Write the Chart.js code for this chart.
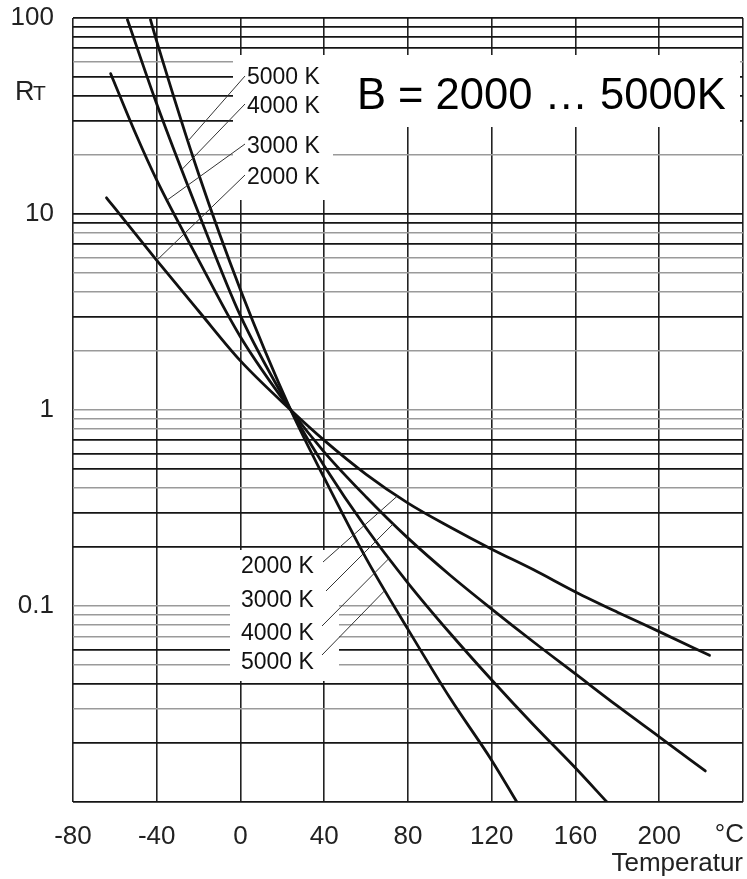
<!DOCTYPE html>
<html>
<head>
<meta charset="utf-8">
<script src="https://cdn.jsdelivr.net/npm/chart.js@4.4.1/dist/chart.umd.min.js"></script>
<style>
  html, body { margin: 0; padding: 0; background: #fff; }
  canvas { display: block; }
</style>
</head>
<body>
<canvas id="ntc" width="747" height="879"></canvas>
<script>
// NTC resistance ratio R_T / R_25 over temperature, B = 2000 ... 5000 K
var tempsB2000 = [-64, -60, -40, -20, 0, 24, 40, 60, 80, 100, 120, 140, 160, 180, 200, 224];
var ratioB2000 = [12.1, 10.7, 5.8, 3.2, 1.78, 1.0, 0.70, 0.47, 0.335, 0.253, 0.195, 0.153, 0.118, 0.093, 0.074, 0.056];

var tempsB3000 = [-62, -50, -40, -20, 0, 24, 40, 60, 80, 100, 120, 140, 160, 180, 200, 222];
var ratioB3000 = [52, 25.6, 14.9, 5.82, 2.36, 1.0, 0.61, 0.36, 0.222, 0.144, 0.0965, 0.0655, 0.045, 0.0309, 0.0215, 0.0144];

var tempsB4000 = [-54, -40, -20, 0, 24, 40, 60, 80, 100, 120, 140, 160, 175];
var ratioB4000 = [98, 36.4, 10.1, 3.02, 1.0, 0.518, 0.25, 0.131, 0.0728, 0.0419, 0.0247, 0.0149, 0.01];

var tempsB5000 = [-43, -40, -20, 0, 24, 40, 60, 80, 100, 120, 132];
var ratioB5000 = [98, 76, 16, 4.1, 1.0, 0.45, 0.175, 0.076, 0.034, 0.0163, 0.01];

var xTickValues = [-80, -40, 0, 40, 80, 120, 160, 200, 240];
var yGridValues = [
  0.01, 0.02, 0.03, 0.04, 0.05, 0.06, 0.07, 0.08, 0.09,
  0.1, 0.2, 0.3, 0.4, 0.5, 0.6, 0.7, 0.8, 0.9,
  1, 2, 3, 4, 5, 6, 7, 8, 9,
  10, 20, 30, 40, 50, 60, 70, 80, 90, 100
];
var yLabelValues = [0.1, 1, 10, 100];
// the heavier printed lines of the paper grid
var yHeavyLines = [100, 90, 80, 70, 50, 40, 30, 10, 9, 7, 3, 0.7, 0.6, 0.5, 0.3, 0.2, 0.06, 0.04, 0.02, 0.01];

// where each curve label points at its curve (temperature, °C)
var upperLabelTemps = { 5000: -25, 4000: -28, 3000: -35, 2000: -40 };
var lowerLabelTemps = { 2000: 75, 3000: 73, 4000: 71, 5000: 69 };

var series = {
  2000: [tempsB2000, ratioB2000],
  3000: [tempsB3000, ratioB3000],
  4000: [tempsB4000, ratioB4000],
  5000: [tempsB5000, ratioB5000]
};

var FONT = '"Liberation Sans", Arial, sans-serif';
var INK = "#222";

function points(temps, ratios) {
  return temps.map(function (t, i) { return { x: t, y: ratios[i] }; });
}

function ratioAt(b, t) {
  var temps = series[b][0], ratios = series[b][1];
  for (var i = 0; i < temps.length - 1; i++) {
    if (t >= temps[i] && t <= temps[i + 1]) {
      var f = (t - temps[i]) / (temps[i + 1] - temps[i]);
      var l = Math.log10(ratios[i]) + f * (Math.log10(ratios[i + 1]) - Math.log10(ratios[i]));
      return Math.pow(10, l);
    }
  }
  return ratios[ratios.length - 1];
}

function curve(b) {
  return {
    label: "B = " + b + " K",
    data: points(series[b][0], series[b][1]),
    borderColor: "#111",
    borderWidth: 2.8,
    borderCapStyle: "round",
    pointRadius: 0,
    fill: false,
    cubicInterpolationMode: "monotone"
  };
}

// no extra room around the plot for overhanging tick labels
function noPadding(axis) {
  axis.paddingTop = 0;
  axis.paddingBottom = 0;
  axis.paddingLeft = 0;
  axis.paddingRight = 0;
}

// white patches behind the annotation texts, then texts and leader lines
var annotations = {
  id: "annotations",
  beforeDatasetsDraw: function (chart) {
    var ctx = chart.ctx;
    ctx.save();
    ctx.fillStyle = "#fff";
    ctx.fillRect(233, 55, 100, 145);
    ctx.fillRect(333, 55, 407, 72);
    ctx.fillRect(230, 550, 109, 131);
    ctx.restore();
  },
  afterDatasetsDraw: function (chart) {
    var ctx = chart.ctx;
    var xs = chart.scales.x, ys = chart.scales.y;
    ctx.save();
    ctx.strokeStyle = "#333";
    ctx.lineWidth = 1;

    var upper = [[5000, 245, 76], [4000, 245, 104], [3000, 245, 144], [2000, 245, 175]];
    upper.forEach(function (u) {
      var t = upperLabelTemps[u[0]];
      ctx.beginPath();
      ctx.moveTo(u[1], u[2]);
      ctx.lineTo(xs.getPixelForValue(t), ys.getPixelForValue(ratioAt(u[0], t)));
      ctx.stroke();
    });
    var lower = [[2000, 323, 562], [3000, 326, 591], [4000, 322, 626], [5000, 322, 655]];
    lower.forEach(function (u) {
      var t = lowerLabelTemps[u[0]];
      ctx.beginPath();
      ctx.moveTo(u[1], u[2]);
      ctx.lineTo(xs.getPixelForValue(t), ys.getPixelForValue(ratioAt(u[0], t)));
      ctx.stroke();
    });

    ctx.fillStyle = "#111";
    ctx.font = "23px " + FONT;
    ctx.textBaseline = "middle";
    ctx.textAlign = "left";
    ctx.fillText("5000 K", 247, 78);
    ctx.fillText("4000 K", 247, 107);
    ctx.fillText("3000 K", 247, 147);
    ctx.fillText("2000 K", 247, 178);
    ctx.fillText("2000 K", 241, 567);
    ctx.fillText("3000 K", 241, 601);
    ctx.fillText("4000 K", 241, 634);
    ctx.fillText("5000 K", 241, 663);
    ctx.restore();
  },
  afterDraw: function (chart) {
    var ctx = chart.ctx;
    ctx.save();
    ctx.fillStyle = "#000";
    ctx.textBaseline = "alphabetic";
    ctx.textAlign = "left";
    ctx.font = "43.5px " + FONT;
    ctx.fillText("B = 2000 \u2026 5000K", 357, 109);

    ctx.fillStyle = INK;
    ctx.font = "27px " + FONT;
    ctx.fillText("R", 15, 100);
    ctx.font = "21px " + FONT;
    ctx.fillText("T", 33, 100);

    ctx.font = "26px " + FONT;
    ctx.textAlign = "right";
    ctx.textBaseline = "middle";
    ctx.fillText("\u00B0C", 744, 835);
    ctx.restore();
  }
};

new Chart(document.getElementById("ntc"), {
  type: "line",
  data: {
    datasets: [curve(2000), curve(3000), curve(4000), curve(5000)]
  },
  options: {
    responsive: false,
    animation: false,
    layout: { autoPadding: false, padding: { top: 18, right: 4, bottom: 0, left: 0 } },
    plugins: {
      legend: { display: false },
      tooltip: { enabled: false }
    },
    scales: {
      x: {
        type: "linear",
        min: -80,
        max: 240,
        afterBuildTicks: function (axis) {
          axis.ticks = xTickValues.map(function (v) { return { value: v }; });
        },
        afterFit: function (axis) { axis.height = 77; noPadding(axis); },
        ticks: {
          autoSkip: false,
          maxRotation: 0,
          padding: 19,
          color: INK,
          font: { family: FONT, size: 26 },
          callback: function (v) { return v === 240 ? "" : String(v); }
        },
        grid: { color: "#222", lineWidth: 1.6, drawTicks: false },
        border: { display: false },
        title: {
          display: true,
          text: "Temperatur",
          align: "end",
          color: INK,
          font: { family: FONT, size: 26 },
          padding: { top: 0, bottom: 0 }
        }
      },
      y: {
        type: "logarithmic",
        min: 0.01,
        max: 100,
        afterBuildTicks: function (axis) {
          axis.ticks = yGridValues.map(function (v) { return { value: v }; });
        },
        afterFit: function (axis) { axis.width = 73; noPadding(axis); },
        ticks: {
          autoSkip: false,
          padding: 19,
          color: INK,
          font: { family: FONT, size: 26 },
          callback: function (v) { return yLabelValues.indexOf(v) >= 0 ? String(v) : ""; }
        },
        grid: {
          drawTicks: false,
          color: function (c) { return yHeavyLines.indexOf(c.tick.value) >= 0 ? "#151515" : "#9a9a9a"; },
          lineWidth: function (c) { return yHeavyLines.indexOf(c.tick.value) >= 0 ? 1.8 : 1.5; }
        },
        border: { display: false }
      }
    }
  },
  plugins: [annotations]
});
</script>
</body>
</html>
